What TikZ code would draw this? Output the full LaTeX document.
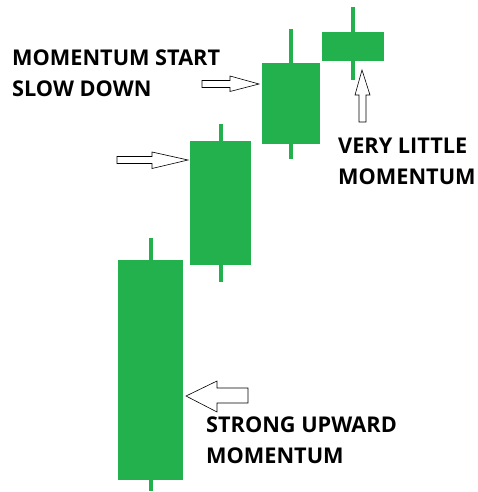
\documentclass[tikz,border=0pt]{standalone}
\usepackage{fontspec}
\setmainfont{Open Sans}
\definecolor{candlegreen}{RGB}{34,177,76}
\begin{document}
\begin{tikzpicture}
[x=1pt, y=-1pt,
 body/.style={rectangle, fill=candlegreen, inner sep=0pt, outer sep=0pt},
 wick/.style={draw=candlegreen, line width=4pt},
 hollow/.style={draw=black, fill=white, line width=.6pt, line join=miter},
 label/.style={align=left, anchor=north west, inner sep=0pt, text=black,
   font=\fontsize{21.7}{31}\selectfont\bfseries}]
\useasboundingbox (0,0) rectangle (478,492);

% candles
\node (c1) at (150.5,370) [body, minimum width=65pt, minimum height=220pt] {};
\node (c2) at (220.5,203) [body, minimum width=61pt, minimum height=124pt] {};
\node (c3) at (291,103.5) [body, minimum width=58pt, minimum height=81pt] {};
\node (c4) at (353,46.5) [body, minimum width=62pt, minimum height=29pt] {};
\draw[wick] (c1.north) -- ++(0,-22);
\draw[wick] (c1.south) -- ++(0,11);
\draw[wick] (c2.north) -- ++(0,-17);
\draw[wick] (c2.south) -- ++(0,17);
\draw[wick] (c3.north) -- ++(0,-34);
\draw[wick] (c3.south) -- ++(0,15);
\draw[wick] (c4.north) -- ++(0,-25);
\draw[wick] (c4.south) -- ++(0,19);

% arrows
\draw[hollow] (202,80.5) -- (230,80.5) -- (230,76) -- (259,84) -- (230,91.5) -- (230,87.5) -- (202,87.5) -- cycle;
\draw[hollow] (117,156.5) -- (152,156.5) -- (152,152) -- (188,160) -- (152,168.5) -- (152,163.5) -- (117,163.5) -- cycle;
\draw[hollow] (359,122) -- (359,95) -- (355,95) -- (362,70) -- (370,95) -- (366,95) -- (366,122) -- cycle;
\draw[hollow] (248,388) -- (217,388) -- (217,381) -- (186,396) -- (217,412) -- (217,403) -- (248,403) -- cycle;

% labels
\node (slow) at (12,50) [label] {MOMENTUM START\\SLOW DOWN};
\node (little) at (338,138) [label] {VERY LITTLE\\MOMENTUM};
\node (strong) at (206,417) [label] {STRONG UPWARD\\MOMENTUM};
\end{tikzpicture}
\end{document}
